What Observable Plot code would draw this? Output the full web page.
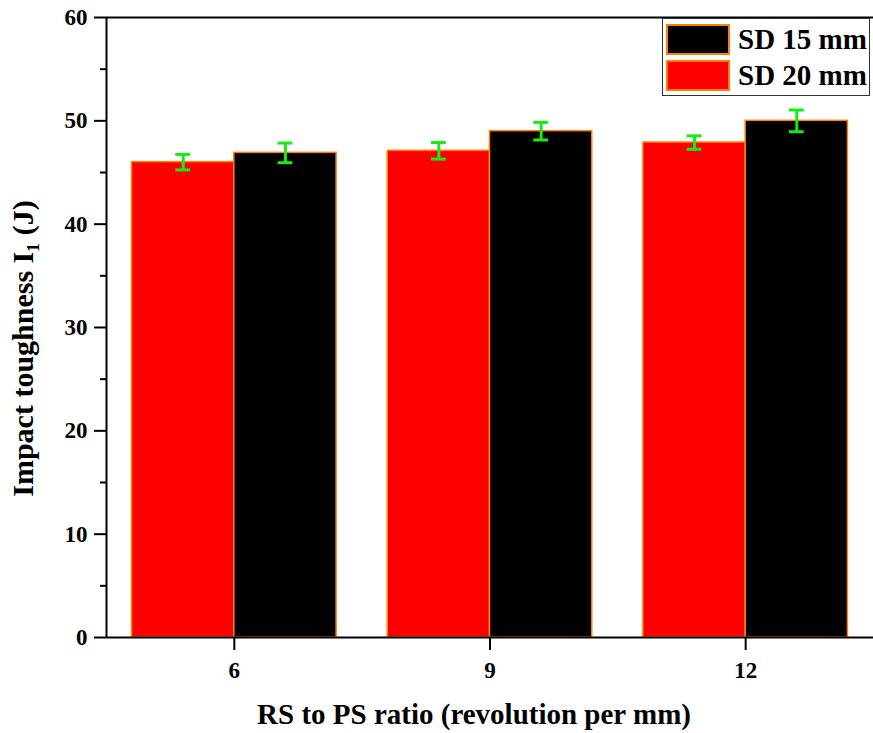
<!DOCTYPE html>
<html>
<head>
<meta charset="utf-8">
<script src="https://cdn.jsdelivr.net/npm/d3@7"></script>
<script src="https://cdn.jsdelivr.net/npm/@observablehq/plot@0.6"></script>
<style>
  html, body { margin: 0; padding: 0; background: #fff; }
  #chart { position: relative; width: 873px; height: 733px; font-family: "Liberation Serif", "Times New Roman", serif; }
  #legend { position: absolute; left: 662px; top: 18px; width: 208px; height: 78px;
            border: 1.5px solid #333; background: #fff; box-sizing: border-box;
            display: flex; flex-direction: column; justify-content: space-around; padding: 2px 0 2px 3px; }
  .row { display: flex; align-items: center; height: 34px; }
  .sw { width: 64px; height: 31px; box-sizing: border-box; border: 2px solid #ff7f00; margin-right: 8px; }
  .lab { font-weight: bold; font-size: 29px; color: #000; white-space: nowrap; }
</style>
</head>
<body>
<div id="chart"></div>
<script>
// RS to PS ratio (revolutions per mm) on the x axis
const ratios = [6, 9, 12];
// Impact toughness I1 (J) for each shoulder diameter, with error half-widths
const sd20 = [46.0, 47.1, 47.9];
const sd20Err = [0.75, 0.8, 0.65];
const sd15 = [46.9, 49.0, 50.0];
const sd15Err = [0.95, 0.85, 1.05];
const seriesNames = ["SD 20 mm", "SD 15 mm"];
const seriesColors = ["#ff0000", "#000000"];
const legendOrder = ["SD 15 mm", "SD 20 mm"];
const yTicks = [0, 10, 20, 30, 40, 50, 60];
const yMinorTicks = [5, 15, 25, 35, 45, 55];

// Long table: one row per bar; side -1 = left bar of the group, +1 = right bar
const rows = [];
ratios.forEach((r, j) => {
  rows.push({ratio: r, series: seriesNames[0], value: sd20[j], err: sd20Err[j], side: -1});
  rows.push({ratio: r, series: seriesNames[1], value: sd15[j], err: sd15Err[j], side: 1});
});

const barW = 1.2;      // bar width in x units (groups are 3 units apart)
const capHalf = 0.087; // half width of the error-bar caps in x units
const center = d => d.ratio + d.side * barW / 2;
const green = "#14ec14";

const chart = Plot.plot({
  width: 873,
  height: 733,
  marginLeft: 106,
  marginRight: 0,
  marginTop: 17,
  marginBottom: 96,
  style: {fontFamily: "Liberation Serif, Times New Roman, serif", fontWeight: "bold", fontSize: "23px", background: "#fff", color: "#000"},
  x: {domain: [4.5, 13.5], axis: null},
  y: {domain: [0, 60], axis: null},
  color: {domain: seriesNames, range: seriesColors},
  marks: [
    Plot.axisY({ticks: yTicks, tickSize: 12, tickPadding: 7, tickFormat: d3.format("d"), label: null, strokeWidth: 2}),
    Plot.axisY({ticks: yMinorTicks, tickSize: 6, tickFormat: () => "", label: null, strokeWidth: 2}),
    Plot.axisX({ticks: ratios, tickSize: 13, tickPadding: 11, tickFormat: d3.format("d"), label: null, strokeWidth: 2}),
    Plot.rectY(rows, {
      x1: d => d.ratio + (d.side < 0 ? -barW : 0),
      x2: d => d.ratio + (d.side < 0 ? 0 : barW),
      y1: 0, y2: "value",
      fill: "series", stroke: "#ff7f00", strokeWidth: 1.5
    }),
    Plot.ruleX(rows, {x: center, y1: d => d.value - d.err, y2: d => d.value + d.err, stroke: green, strokeWidth: 3}),
    Plot.ruleY(rows, {y: d => d.value + d.err, x1: d => center(d) - capHalf, x2: d => center(d) + capHalf, stroke: green, strokeWidth: 3}),
    Plot.ruleY(rows, {y: d => d.value - d.err, x1: d => center(d) - capHalf, x2: d => center(d) + capHalf, stroke: green, strokeWidth: 3}),
    Plot.ruleY([0, 60], {stroke: "#000", strokeWidth: 2}),
    Plot.ruleX([4.5], {stroke: "#000", strokeWidth: 2}),
    Plot.text(["RS to PS ratio (revolution per mm)"], {frameAnchor: "bottom", dy: 77, dx: -16, fontSize: 29, fontWeight: "bold", textAnchor: "middle", lineAnchor: "middle"}),
    Plot.text(["Impact toughness I\u2081 (J)"], {frameAnchor: "left", dx: -83, dy: 21, rotate: -90, fontSize: 30, fontWeight: "bold", textAnchor: "middle", lineAnchor: "middle"})
  ]
});

// Numeric tick labels: bold 23px serif
chart.querySelectorAll("text").forEach(t => {
  if (/^\d+$/.test(t.textContent.trim())) {
    t.style.fontSize = "23px";
    t.style.fontWeight = "bold";
  }
});

const root = document.getElementById("chart");
root.appendChild(chart);

// Legend box in the top-right corner of the plot area
const legend = document.createElement("div");
legend.id = "legend";
legendOrder.forEach(name => {
  const row = document.createElement("div");
  row.className = "row";
  const sw = document.createElement("div");
  sw.className = "sw";
  sw.style.background = seriesColors[seriesNames.indexOf(name)];
  const lab = document.createElement("span");
  lab.className = "lab";
  lab.textContent = name;
  row.appendChild(sw);
  row.appendChild(lab);
  legend.appendChild(row);
});
root.appendChild(legend);
</script>
</body>
</html>
